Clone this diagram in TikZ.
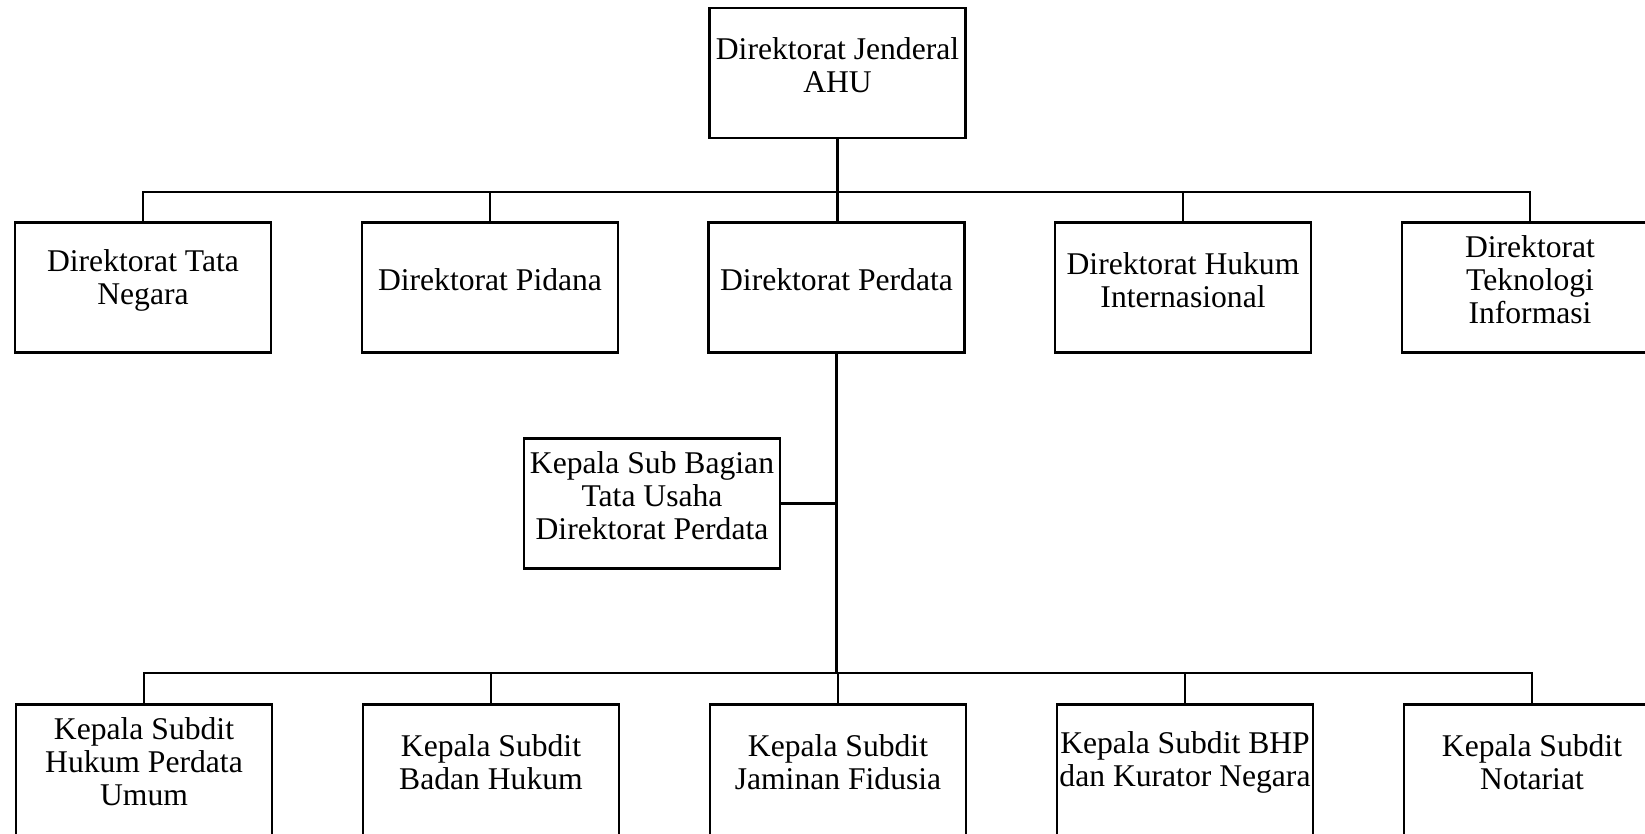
\documentclass[tikz,border=0pt]{standalone}
\usepackage{fontspec}
\setmainfont{Liberation Serif}
% text of a box: centred in the upper part of the box
\newcommand\boxtext[2][2.6cm]{\parbox[c][#1][t]{5.12cm}{\centering\parbox[c][2.3cm][c]{5.12cm}{\centering #2}}}

\begin{document}
\begin{tikzpicture}[x=0.02cm,y=-0.02cm,
    unit/.style={draw,line width=1.5pt,inner sep=0pt,font=\fontsize{18}{18.8}\selectfont},
    link/.style={line width=1.5pt}]
  \useasboundingbox (0,0) rectangle (1645,834);
  % pimpinan
  \node[unit] (ahu) at (837.5,73) {\boxtext{Direktorat Jenderal\\AHU}};
  % direktorat
  \node[unit] (tn) at (143,287.5) {\boxtext{Direktorat Tata\\Negara}};
  \node[unit] (pidana) at (490,287.5) {\boxtext{Direktorat Pidana}};
  \node[unit] (perdata) at (836.5,287.5) {\boxtext{Direktorat Perdata}};
  \node[unit] (hi) at (1183,287.5) {\boxtext{Direktorat Hukum\\Internasional}};
  \node[unit] (ti) at (1530,287.5) {\boxtext{Direktorat\\Teknologi\\Informasi}};
  % tata usaha
  \node[unit] (tu) at (652,503.5) {\boxtext{Kepala Sub Bagian\\Tata Usaha\\Direktorat Perdata}};
  % subdit
  \node[unit] (hpu) at (144,779.5) {\boxtext[3cm]{Kepala Subdit\\Hukum Perdata\\Umum}};
  \node[unit] (bh) at (491,779.5) {\boxtext[3cm]{Kepala Subdit\\Badan Hukum}};
  \node[unit] (jf) at (838,779.5) {\boxtext[3cm]{Kepala Subdit\\Jaminan Fidusia}};
  \node[unit] (bhp) at (1185,779.5) {\boxtext[3cm]{Kepala Subdit BHP\\dan Kurator Negara}};
  \node[unit] (not) at (1532,779.5) {\boxtext[3cm]{Kepala Subdit\\Notariat}};

  \coordinate (busA) at (837,192);
  \coordinate (busB) at (837,673);
  \draw[link] (ahu.south) -- (ahu.south |- perdata.north);
  \draw[link] (tn.north) |- (ti.north |- busA) -- (ti.north);
  \foreach \n in {pidana,hi} \draw[link] (\n.north) -- (\n.north |- busA);
  \draw[link] (perdata.south) -- (perdata.south |- busB);
  \draw[link] (tu.east) -- (tu.east -| perdata.south);
  \draw[link] (hpu.north) |- (not.north |- busB) -- (not.north);
  \foreach \n in {bh,jf,bhp} \draw[link] (\n.north) -- (\n.north |- busB);
\end{tikzpicture}
\end{document}
